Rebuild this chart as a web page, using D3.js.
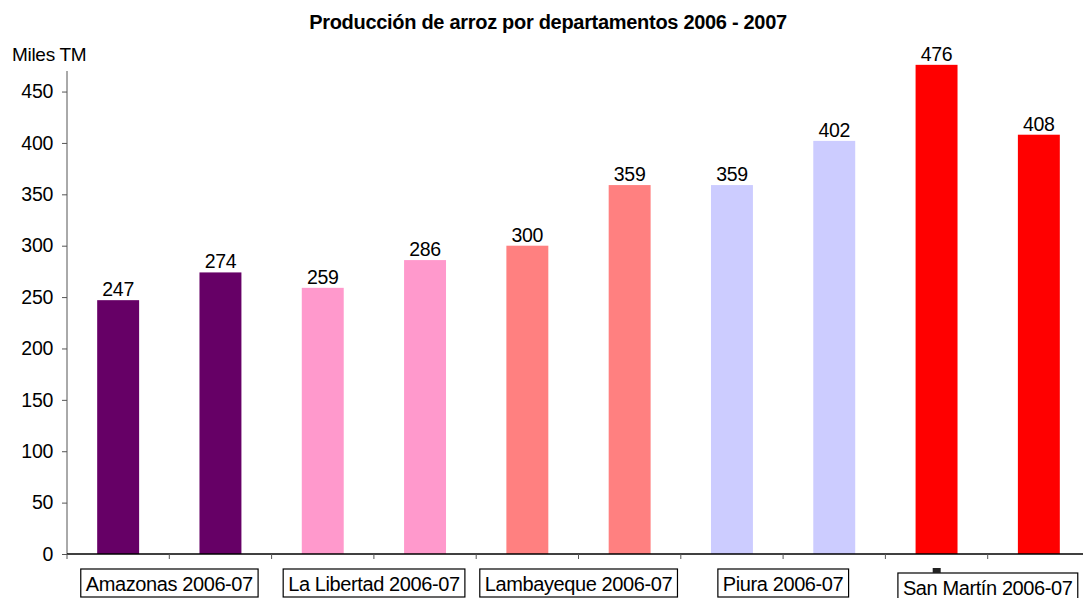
<!DOCTYPE html>
<html>
<head>
<meta charset="utf-8">
<script src="https://cdn.jsdelivr.net/npm/d3@7"></script>
<style>
  body { margin: 0; background: #fff; }
  svg { font-family: "Liberation Sans", Arial, sans-serif; }
</style>
</head>
<body>
<svg id="chart" width="1083" height="598"></svg>
<script>
// data
let departments = ['Amazonas', 'La Libertad', 'Lambayeque', 'Piura', 'San Martín'];
let seasonLabel = '2006-07';
let values2006 = [247, 259, 300, 359, 476];
let values2007 = [274, 286, 359, 402, 408];
let deptColors = ['#660066', '#FF99CC', '#FF8080', '#CCCCFF', '#FF0000'];
let yTicks = [0, 50, 100, 150, 200, 250, 300, 350, 400, 450];

let svg = d3.select('#chart');

// two bars per department
let bars = [];
departments.forEach((d, i) => {
  bars.push({ key: d + '-a', dept: d, value: values2006[i], color: deptColors[i] });
  bars.push({ key: d + '-b', dept: d, value: values2007[i], color: deptColors[i] });
});

let left = 67, right = 1090, bottom = 554;

let x = d3.scaleBand()
  .domain(bars.map(b => b.key))
  .range([left, right])
  .paddingInner(0.59)
  .paddingOuter(0.295);

let y = d3.scaleLinear().domain([0, 470]).range([bottom, 71]);

// title
svg.append('text')
  .attr('x', 548).attr('y', 29)
  .attr('text-anchor', 'middle')
  .attr('font-size', 20).attr('font-weight', 'bold')
  .attr('letter-spacing', -0.3)
  .text('Producción de arroz por departamentos 2006 - 2007');

svg.append('text')
  .attr('x', 12).attr('y', 61)
  .attr('font-size', 19)
  .attr('letter-spacing', -0.3)
  .text('Miles TM');

// y axis
let yAxis = d3.axisLeft(y).tickValues(yTicks).tickSize(5).tickPadding(9);
let gy = svg.append('g')
  .attr('transform', `translate(${left},0)`)
  .call(yAxis);
gy.select('.domain').attr('stroke', '#555').attr('d', `M0,${y(470)}V${bottom}`);
gy.selectAll('.tick line').attr('stroke', '#555');
gy.selectAll('.tick text')
  .attr('font-size', 19.5).attr('fill', '#000')
  .attr('letter-spacing', -0.3)
  .attr('font-family', '"Liberation Sans", Arial, sans-serif');

// bars
svg.append('g').selectAll('rect')
  .data(bars)
  .join('rect')
  .attr('x', d => x(d.key))
  .attr('y', d => y(d.value))
  .attr('width', x.bandwidth())
  .attr('height', d => y(0) - y(d.value))
  .attr('fill', d => d.color);

// value labels
svg.append('g').selectAll('text')
  .data(bars)
  .join('text')
  .attr('x', d => x(d.key) + x.bandwidth() / 2)
  .attr('y', d => y(d.value) - 4)
  .attr('text-anchor', 'middle')
  .attr('font-size', 19.5)
  .attr('letter-spacing', -0.3)
  .text(d => d.value);

// x axis line and ticks at band boundaries
let gap = (x.step() - x.bandwidth()) / 2;
svg.append('line')
  .attr('x1', left).attr('x2', 1083)
  .attr('y1', bottom).attr('y2', bottom)
  .attr('stroke', '#000').attr('stroke-width', 1.5);
let tickXs = bars.map(b => x(b.key) - gap).concat([x(bars[bars.length - 1].key) + x.bandwidth() + gap]);
svg.append('g').selectAll('line')
  .data(tickXs)
  .join('line')
  .attr('x1', d => d).attr('x2', d => d)
  .attr('y1', bottom).attr('y2', bottom + 5)
  .attr('stroke', '#555');

// boxed category labels
let labelG = svg.append('g');
departments.forEach((d, i) => {
  let cx = (x(d + '-a') + x(d + '-b') + x.bandwidth()) / 2;
  let last = i === departments.length - 1;
  let ty = last ? 595 : 591;
  let g = labelG.append('g');
  let t = g.append('text')
    .attr('x', cx).attr('y', ty)
    .attr('text-anchor', 'middle')
    .attr('font-size', 20)
    .attr('letter-spacing', -0.4)
    .text(d + ' ' + seasonLabel);
  let bb = t.node().getBBox();
  let bx = Math.max(left + 1, bb.x - 5);
  let bw = bb.width + 10;
  if (bx !== bb.x - 5) t.attr('x', bx + bw / 2);
  g.insert('rect', 'text')
    .attr('x', bx).attr('y', last ? 573 : 569)
    .attr('width', bw).attr('height', 28)
    .attr('fill', '#fff').attr('stroke', '#000').attr('stroke-width', 1.2);
  if (last) {
    g.append('rect')
      .attr('x', cx - 55).attr('y', 568)
      .attr('width', 8).attr('height', 5)
      .attr('fill', '#222');
  }
});
</script>
</body>
</html>
